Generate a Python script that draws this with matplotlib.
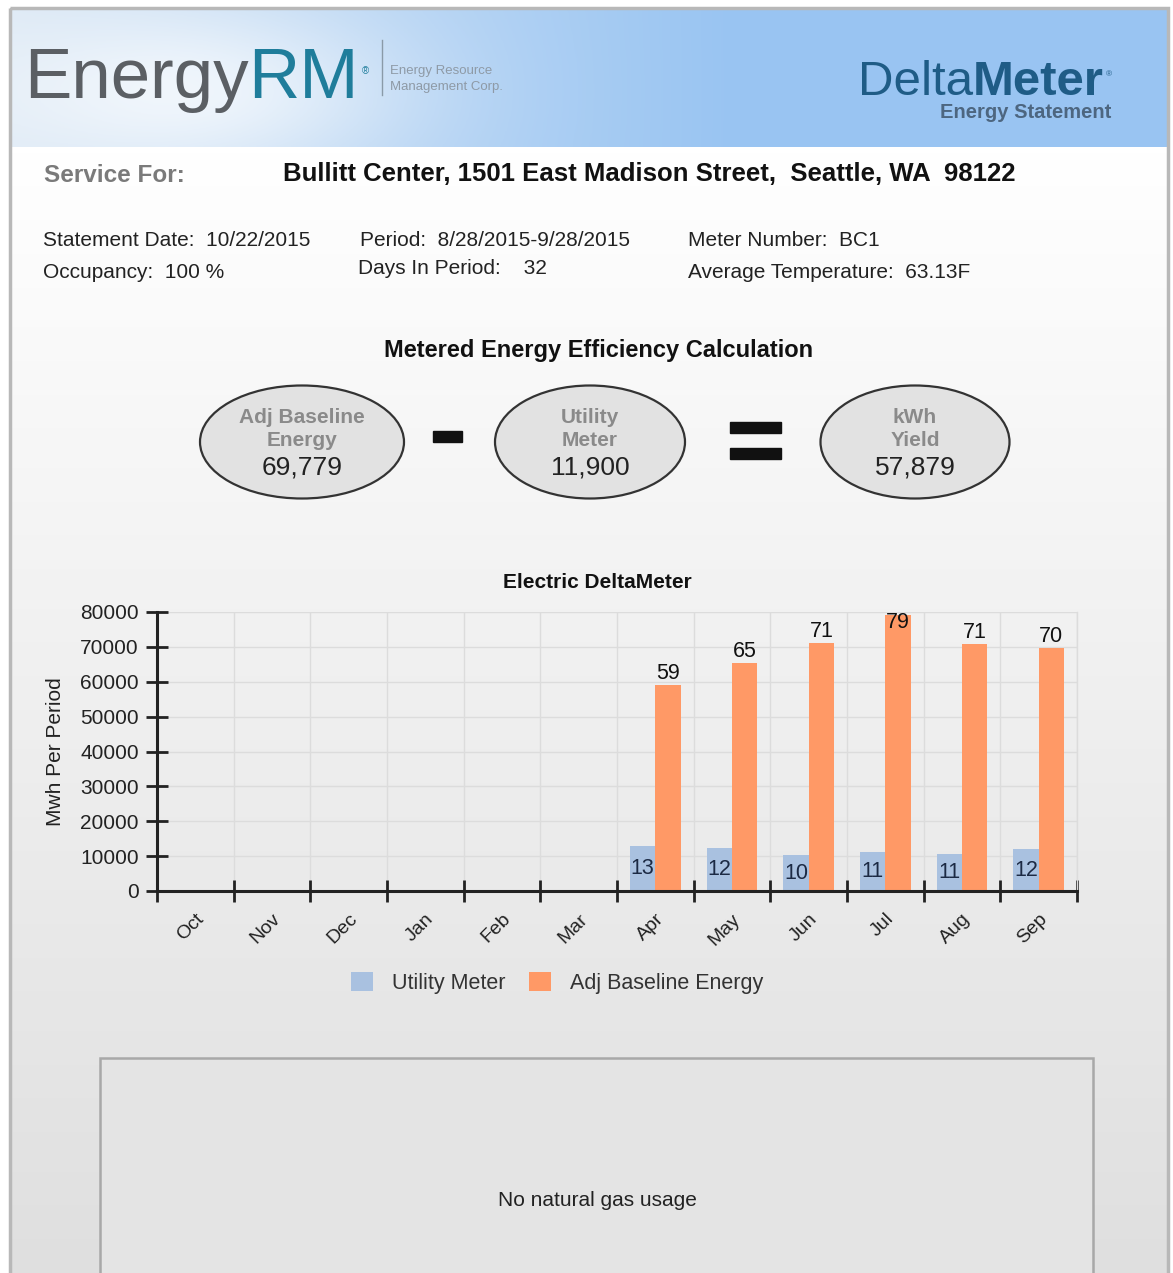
import numpy as np
import matplotlib.pyplot as plt
from matplotlib.patches import Ellipse, Rectangle

plt.rcParams['font.family'] = ['Liberation Sans', 'DejaVu Sans']

# --- data ---
months = ["Oct", "Nov", "Dec", "Jan", "Feb", "Mar", "Apr", "May", "Jun", "Jul", "Aug", "Sep"]
utility_meter = [None, None, None, None, None, None, 12900, 12240, 10320, 11280, 10600, 11900]
adj_baseline = [None, None, None, None, None, None, 59100, 65400, 71200, 79000, 70700, 69779]

calc_labels = ["Adj Baseline\nEnergy", "Utility\nMeter", "kWh\nYield"]
calc_values = [69779, 11900, 57879]

service_for = "Bullitt Center, 1501 East Madison Street,  Seattle, WA  98122"
info_left = ["Statement Date:  10/22/2015", "Occupancy:  100 %"]
info_mid = ["Period:  8/28/2015-9/28/2015", "Days In Period:    32"]
info_right = ["Meter Number:  BC1", "Average Temperature:  63.13F"]

c_util = "#a9c1e0"
c_base = "#ff9966"

W, H = 1173, 1273
fig = plt.figure(figsize=(W / 100, H / 100), dpi=100)
fig.patch.set_facecolor("white")

# background axes in pixel coordinates
bg = fig.add_axes([0, 0, 1, 1])
bg.set_xlim(0, W)
bg.set_ylim(H, 0)
bg.axis("off")

# page gradient (white -> light grey)
g = np.linspace(1.0, 0.0, 200)[:, None]
top_c = np.array([1.0, 1.0, 1.0])
bot_c = np.array([0.875, 0.875, 0.875])
page = (g[..., None] * top_c + (1 - g[..., None]) * bot_c)
page = np.repeat(page, 2, axis=1)
bg.imshow(page, extent=(10, 1168, H, 147), aspect="auto", zorder=0)
bg.add_patch(Rectangle((10, 8), 1158, H, fill=False, ec="#b8b8b8", lw=2.5, zorder=5))

# header band
xx = np.linspace(0, 1, 300)[None, :]
yy = np.linspace(0, 1, 60)[:, None]
left_c = np.array([0.86, 0.91, 0.96])
right_c = np.array([0.60, 0.77, 0.95])
t = np.clip(xx * 1.6, 0, 1)
hdr = (1 - t)[..., None] * left_c + t[..., None] * right_c
hdr = np.broadcast_to(hdr, (60, 300, 3)).copy()
glow = np.exp(-(((xx - 0.15) / 0.18) ** 2 + ((yy - 0.6) / 0.6) ** 2))
hdr = hdr + (1 - hdr) * glow[..., None] * 0.7
bg.imshow(hdr, extent=(10, 1168, 147, 8), aspect="auto", zorder=1)

# logo
t_energy = bg.text(24, 98, "Energy", fontsize=51, color="#5b5f64", ha="left", va="baseline", zorder=3)
t_rm = bg.annotate("RM", xy=(1, 0), xycoords=t_energy, fontsize=51, color="#1f7d9b",
                   ha="left", va="bottom", zorder=3)
bg.annotate("®", xy=(1, 1), xycoords=t_rm, xytext=(2, -14), textcoords="offset points",
            fontsize=7, color="#1f7d9b", ha="left", va="top", zorder=3)
bg.plot([382, 382], [40, 95], color="#8a9aa8", lw=1, zorder=3)
bg.text(390, 74, "Energy Resource", fontsize=9.5, color="#8e9aa6", zorder=3)
bg.text(390, 90, "Management Corp.", fontsize=9.5, color="#8e9aa6", zorder=3)

t_delta = bg.text(858, 95, "Delta", fontsize=35.5, color="#1f5c86", ha="left", va="baseline", zorder=3)
t_meter = bg.annotate("Meter", xy=(1, 0), xycoords=t_delta, fontsize=35.5, color="#1f5c86",
                      fontweight="bold", ha="left", va="bottom", zorder=3)
bg.annotate("®", xy=(1, 1), xycoords=t_meter, xytext=(1, -8), textcoords="offset points",
            fontsize=6, color="#1f5c86", ha="left", va="top", zorder=3)
bg.text(1111, 112, "Energy Statement", fontsize=14.5, color="#4d6680", fontweight="bold",
        ha="right", va="center", zorder=3)

# service / info
bg.text(44, 175, "Service For:", fontsize=17.5, color="#7a7a7a", fontweight="bold", va="center")
bg.text(283, 174, service_for, fontsize=18.5, color="#111111", fontweight="bold", va="center")
for i, s in enumerate(info_left):
    bg.text(43, 241 + 32 * i, s, fontsize=15, color="#222222", va="center")
bg.text(360, 241, info_mid[0], fontsize=15, color="#222222", va="center")
bg.text(358, 268, info_mid[1], fontsize=15, color="#222222", va="center")
for i, s in enumerate(info_right):
    bg.text(688, 241 + 32 * i, s, fontsize=15, color="#222222", va="center")

# calculation ellipses
bg.text(599, 351, "Metered Energy Efficiency Calculation", fontsize=17, fontweight="bold",
        color="#111111", ha="center", va="center")
centers = [(302, 442), (590, 442), (915, 442)]
widths = [204, 190, 189]
for (cx, cy), w, lab, val in zip(centers, widths, calc_labels, calc_values):
    bg.add_patch(Ellipse((cx, cy), w, 113, fc="#e2e2e2", ec="#333333", lw=1.6, zorder=2))
    bg.text(cx, cy - 13, lab, fontsize=15, fontweight="bold", color="#8a8a8a",
            ha="center", va="center", linespacing=1.3, zorder=3)
    bg.text(cx, cy + 26, f"{val:,}", fontsize=19, color="#222222", ha="center", va="center", zorder=3)
bg.add_patch(Rectangle((433, 431), 29, 11, color="#111111", zorder=3))
bg.add_patch(Rectangle((730, 422), 51, 11, color="#111111", zorder=3))
bg.add_patch(Rectangle((730, 448), 51, 11, color="#111111", zorder=3))

# gas box
bg.add_patch(Rectangle((100, 1058), 993, 230, fc="#e4e4e4", ec="#a8a8a8", lw=1.8, zorder=2))
bg.text(597, 1201, "No natural gas usage", fontsize=15, color="#222222", ha="center", va="center", zorder=3)

# --- chart ---
bg.text(597, 582, "Electric DeltaMeter", fontsize=15, fontweight="bold", color="#111111",
        ha="center", va="center")
ax = fig.add_axes([157 / W, 1 - 891 / H, (1077 - 157) / W, (891 - 612) / H])
ax.set_facecolor("none")
x = np.arange(len(months))
u = np.array([np.nan if v is None else v for v in utility_meter], dtype=float)
b = np.array([np.nan if v is None else v for v in adj_baseline], dtype=float)
bw = 0.33
ax.bar(x - bw / 2, u, width=bw, color=c_util, label="Utility Meter", zorder=2)
ax.bar(x + bw / 2, b, width=bw, color=c_base, label="Adj Baseline Energy", zorder=2)

for xi, v in zip(x, u):
    if not np.isnan(v):
        ax.text(xi - bw / 2, v / 2, f"{v / 1000:.0f}", fontsize=15.5, color="#1c2a44",
                ha="center", va="center", zorder=3)
for xi, v in zip(x, b):
    if not np.isnan(v):
        ax.text(xi + bw / 2, min(v + 300, 74000), f"{v / 1000:.0f}", fontsize=15.5, color="#111111",
                ha="center", va="bottom", zorder=3, clip_on=False)

ax.set_xlim(-0.5, len(months) - 0.5)
ax.set_ylim(0, 80000)
ax.set_yticks(np.arange(0, 80001, 10000))
ax.set_xticks(x)
ax.set_xticklabels(months, rotation=45, ha="right", rotation_mode="anchor")
ax.set_xticks(np.arange(-0.5, len(months)), minor=True)
ax.tick_params(axis="x", which="major", length=0, pad=14, labelsize=14, labelcolor="#222222")
ax.tick_params(axis="x", which="minor", length=16, width=2, direction="inout", color="#222222")
ax.tick_params(axis="y", which="major", length=16, width=2, direction="inout", color="#222222",
               labelsize=15, labelcolor="#222222", pad=5)
ax.grid(True, axis="y", which="major", color="#dcdcdc", lw=1, zorder=0)
ax.grid(True, axis="x", which="minor", color="#dcdcdc", lw=1, zorder=0)
ax.spines["top"].set_visible(False)
ax.spines["right"].set_color("#dcdcdc")
ax.spines["right"].set_linewidth(1)
for s in ["left", "bottom"]:
    ax.spines[s].set_color("#222222")
    ax.spines[s].set_linewidth(2.2)
ax.set_ylabel("Mwh Per Period", fontsize=15, color="#222222")
ax.yaxis.set_label_coords(-0.10, 0.5)
ax.legend(loc="center", bbox_to_anchor=(0.435, -0.33), ncol=2, frameon=False,
          fontsize=15.5, handlelength=1.0, handleheight=1.0, columnspacing=1.1, handletextpad=0.9,
          labelcolor="#333333")

fig.savefig("out.png", dpi=100)
